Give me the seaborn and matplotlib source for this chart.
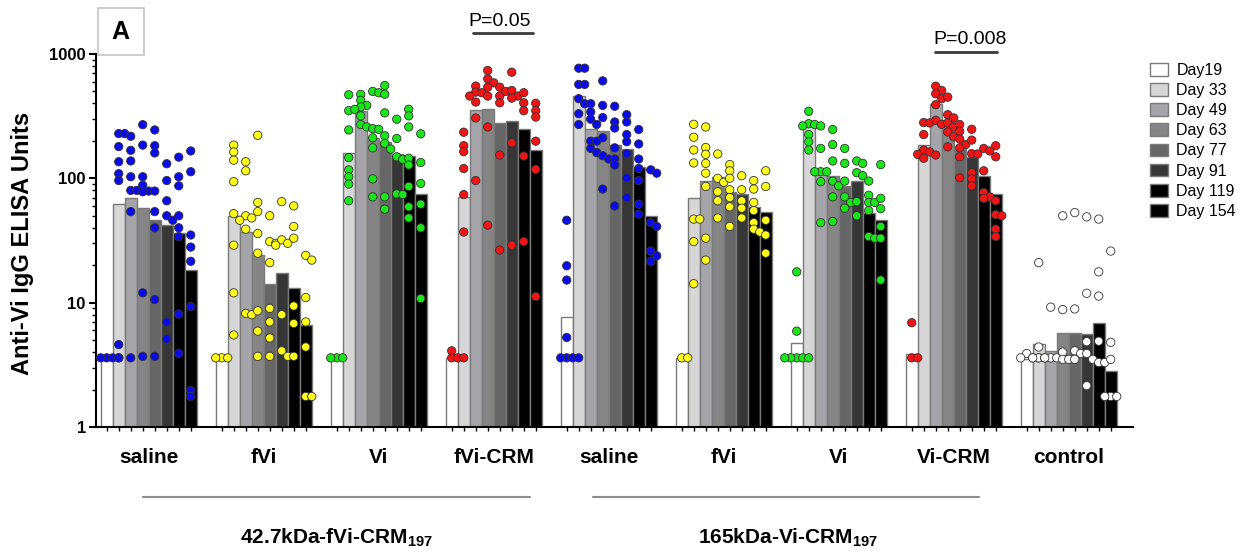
import numpy as np
import pandas as pd
import matplotlib
matplotlib.use("Agg")
import matplotlib.pyplot as plt
import seaborn as sns
from matplotlib.patches import Patch, Rectangle
from matplotlib.lines import Line2D
from matplotlib.ticker import LogLocator, NullFormatter

# ---------------- data ----------------
groups = ["saline", "fVi", "Vi", "fVi-CRM", "saline", "fVi", "Vi", "Vi-CRM", "control"]
days = ["Day19", "Day 33", "Day 49", "Day 63", "Day 77", "Day 91", "Day 119", "Day 154"]

# bar heights (geometric means, ELISA units)
bars_saline_42 = [3.6, 62, 70, 57.5, 46, 42, 36, 18.3]
bars_fvi_42 = [3.6, 50, 37, 24, 14.2, 17.3, 13, 6.6]
bars_vi_42 = [3.6, 161, 346, 212, 195, 158, 152, 75]
bars_fvicrm_42 = [3.6, 70.5, 356, 363, 281, 288, 248, 169]
bars_saline_165 = [7.7, 459, 251, 239, 185, 172, 123, 50]
bars_fvi_165 = [3.6, 70, 95, 103, 78, 74.5, 59, 54]
bars_vi_165 = [4.7, 264, 112, 105, 87.5, 96, 52.5, 46]
bars_vicrm_165 = [3.9, 187, 394, 288, 172, 149, 105, 75]
bars_control = [3.5, 4.65, 4.05, 5.7, 5.75, 5.6, 6.9, 2.8]

# individual mice per day
dots_saline_42 = [
    [3.6, 3.6, 3.6, 3.6],
    [229, 229, 180, 136, 109, 96, 4.6, 3.6],
    [218, 168, 138, 103, 80, 80, 54, 3.6],
    [270, 185, 103, 88, 79, 78, 12, 3.7],
    [245, 183, 160, 79, 54, 40, 10.6, 3.7],
    [131, 96, 66, 50, 46, 7, 5.1],
    [148, 103, 87, 50, 40, 34, 8.1, 3.9],
    [166, 113, 35, 28, 21.5, 9.3, 1.97, 1.76],
]
dots_fvi_42 = [
    [3.6, 3.6, 3.6],
    [185, 163, 140, 94, 52, 29, 12, 5.5],
    [136, 115, 50, 48, 46, 39, 8.2, 8],
    [222, 64, 54, 36, 25, 8.6, 5.9, 3.7],
    [50, 31, 30, 21, 9, 7, 5.2, 3.7],
    [65, 32, 30, 29, 8, 4.1, 3.7],
    [60, 41, 33, 9.4, 6.8, 3.7],
    [24, 22, 11, 7, 4.4, 1.76, 1.76],
]
dots_vi_42 = [
    [3.6, 3.6, 3.6],
    [470, 350, 245, 147, 117, 103, 90, 66],
    [473, 424, 386, 375, 359, 318, 271, 259],
    [500, 488, 251, 248, 212, 176, 99, 71],
    [558, 475, 336, 220, 191, 172, 71, 56.5],
    [299, 209, 149, 142, 75, 74],
    [359, 318, 259, 145, 128, 86, 59, 48],
    [228, 134, 91, 62, 40, 10.8],
]
dots_fvicrm_42 = [
    [4.1, 3.6, 3.6],
    [235, 183, 164, 120, 74, 37, 3.6],
    [552, 494, 488, 459, 411, 306, 96],
    [737, 631, 586, 541, 459, 259, 42],
    [541, 500, 459, 405, 154, 26.5],
    [714, 509, 459, 442, 193, 29],
    [488, 405, 350, 151, 31],
    [401, 350, 311, 199, 118, 11.2],
]
dots_saline_165 = [
    [46, 19.8, 15.2, 5.25, 3.6, 3.6, 3.6, 3.6],
    [769, 769, 569, 569, 437, 398, 331, 271],
    [398, 342, 299, 271, 199, 199, 174, 161],
    [608, 386, 308, 212, 152, 143, 82],
    [380, 284, 254, 176, 143, 128, 60],
    [325, 284, 225, 197, 158, 101, 70],
    [247, 189, 143, 120, 96, 62, 51.5],
    [117, 110, 44, 41, 26, 23.8, 21.5],
]
dots_fvi_165 = [
    [3.6, 3.6],
    [272, 214, 169, 133, 47, 47, 31, 14.2],
    [259, 177, 156, 132, 110, 86, 33, 22],
    [157, 100, 93, 78, 66, 48],
    [129, 115, 100, 81, 70, 59, 41],
    [105, 81, 66, 57.5, 48],
    [96, 82, 64, 55, 44, 39, 37],
    [115, 86, 46, 35, 25],
]
dots_vi_165 = [
    [17.7, 5.9, 3.6, 3.6, 3.6, 3.6, 3.6],
    [346, 275, 271, 264, 264, 225, 197, 169],
    [174, 113, 113, 113, 94, 44],
    [247, 187, 138, 95, 87, 71, 45],
    [174, 132, 95, 71, 64, 57.5],
    [138, 132, 111, 105, 65, 50],
    [95, 73, 64, 64, 55, 34, 33],
    [129, 69, 57, 41, 33, 15.2],
]
dots_vicrm_165 = [
    [6.9, 3.6, 3.6],
    [281, 279, 225, 169, 163, 156, 154, 145],
    [551, 509, 479, 437, 391, 293, 272],
    [450, 325, 306, 279, 259, 236, 216, 179],
    [271, 239, 207, 187, 176, 149, 101],
    [248, 203, 158, 111, 99, 87],
    [174, 166, 157, 115, 77, 71, 69],
    [183, 149, 66, 51, 50, 39, 34],
]
dots_control = [
    [3.9, 3.6, 3.6, 3.6],
    [21, 4.4, 3.6, 3.6, 3.6],
    [9.2, 3.6, 3.6, 3.6],
    [50, 8.8, 4.0, 3.5, 3.5],
    [53, 8.9, 4.1, 3.9, 3.5],
    [49, 11.9, 4.85, 3.9, 3.5, 2.15],
    [47, 17.7, 11.3, 4.9, 3.3, 3.3],
    [26, 4.8, 3.5, 1.76, 1.76, 1.76],
]

bar_values = [bars_saline_42, bars_fvi_42, bars_vi_42, bars_fvicrm_42,
              bars_saline_165, bars_fvi_165, bars_vi_165, bars_vicrm_165, bars_control]
dot_values = [dots_saline_42, dots_fvi_42, dots_vi_42, dots_fvicrm_42,
              dots_saline_165, dots_fvi_165, dots_vi_165, dots_vicrm_165, dots_control]

bar_colors = ["#ffffff", "#d6d6d6", "#a5a5a9", "#858585", "#666666", "#363636", "#000000", "#000000"]
dot_colors = ["#0a0aeb", "#ffff1a", "#19e619", "#f01414",
              "#0a0aeb", "#ffff1a", "#19e619", "#f01414", "#ffffff"]

# ---------------- style ----------------
sns.set_theme(style="ticks")
plt.rcParams["font.family"] = ["Liberation Sans", "DejaVu Sans"]
plt.rcParams["mathtext.fontset"] = "custom"
plt.rcParams["mathtext.rm"] = "Liberation Sans:bold"
plt.rcParams["mathtext.bf"] = "Liberation Sans:bold"
plt.rcParams["mathtext.it"] = "Liberation Sans:bold"
plt.rcParams["axes.edgecolor"] = "black"
plt.rcParams["xtick.color"] = "black"
plt.rcParams["ytick.color"] = "black"
plt.rcParams["text.color"] = "black"

W, H = 1247, 553
fig = plt.figure(figsize=(W / 100, H / 100), dpi=100)
ax_l, ax_r, ax_t, ax_b = 95.5, 1133, 54, 427
ax = fig.add_axes([ax_l / W, 1 - ax_b / H, (ax_r - ax_l) / W, (ax_b - ax_t) / H])
ax.set_yscale("log")

keys = [f"g{i}" for i in range(len(groups))]
rows = []
for k, vals in zip(keys, bar_values):
    for d, v in zip(days, vals):
        rows.append({"group": k, "day": d, "value": v})
df = pd.DataFrame(rows)

total_w = 0.835
sns.barplot(data=df, x="group", y="value", hue="day", order=keys, hue_order=days,
            palette=bar_colors, width=total_w, dodge=True, errorbar=None,
            edgecolor="#7a7a7a", linewidth=1.0, saturation=1, legend=False, ax=ax)

xlim = (-0.463, 8.559)
ylim = (1, 1000)

# bar centres from the drawn bars
centers = np.zeros((len(groups), len(days)))
for j, cont in enumerate(ax.containers):
    for i, b in enumerate(cont):
        centers[i, j] = b.get_x() + b.get_width() / 2

# simple beeswarm laid out in output pixels around each bar centre
px_per_x = (ax_r - ax_l) / (xlim[1] - xlim[0])
px_per_dec = (ax_b - ax_t) / np.log10(ylim[1] / ylim[0])
step, min_d = 6.0, 5.9
xs, ys, hs = [], [], []
for i, gd in enumerate(dot_values):
    for j, vals in enumerate(gd):
        xc = centers[i, j]
        placed = []
        for v in vals:
            yp = np.log10(v) * px_per_dec
            for k in [0, 1, -1, 2, -2, 3, -3, 4, -4, 5, -5, 6, -6]:
                xp = k * step
                if all((xp - a) ** 2 + (yp - b) ** 2 >= min_d ** 2 for a, b in placed):
                    break
            placed.append((xp, yp))
            xs.append(xc + xp / px_per_x)
            ys.append(v)
            hs.append(keys[i])

sns.scatterplot(x=xs, y=ys, hue=hs, palette=dict(zip(keys, dot_colors)),
                s=36, edgecolor="#333333", linewidth=0.6, legend=False, zorder=5, ax=ax)

ax.set_xlim(*xlim)
ax.set_ylim(*ylim)

# ---------------- axes ----------------
ax.set_xlabel("")
ax.set_ylabel("")
ax.set_xticks(range(len(groups)))
ax.set_xticklabels(groups, fontsize=15, fontweight="bold")
ax.tick_params(axis="x", which="major", length=0, pad=15)
ax.set_xticks(centers.flatten(), minor=True)
ax.tick_params(axis="x", which="minor", length=3, width=1, direction="out")

ax.set_yticks([1, 10, 100, 1000])
ax.set_yticklabels(["1", "10", "100", "1000"], fontsize=12, fontweight="bold")
ax.yaxis.set_minor_locator(LogLocator(base=10, subs=np.arange(2, 10)))
ax.yaxis.set_minor_formatter(NullFormatter())
ax.tick_params(axis="y", which="major", length=5, width=1.5, pad=2)
ax.tick_params(axis="y", which="minor", length=3, width=1)
sns.despine(ax=ax)
for s in ["left", "bottom"]:
    ax.spines[s].set_linewidth(1.5)
    ax.spines[s].set_color("black")

fig.text(23 / W, 1 - 243 / H, "Anti-Vi IgG ELISA Units", rotation=90,
         ha="center", va="center", fontsize=17, fontweight="bold")

# panel letter
fig.add_artist(Rectangle((97.5 / W, 1 - 55 / H), 46 / W, 47 / H, transform=fig.transFigure,
                         facecolor="white", edgecolor="#c4c4c4", linewidth=1.2))
fig.text(120.5 / W, 1 - 32 / H, "A", ha="center", va="center", fontsize=18, fontweight="bold")

# p-values
def pval(text, cx, ty, ly, x0, x1):
    fig.text(cx / W, 1 - ty / H, text, ha="center", va="center", fontsize=14)
    fig.add_artist(Line2D([x0 / W, x1 / W], [1 - ly / H, 1 - ly / H], transform=fig.transFigure,
                          color="#3a3a3a", linewidth=2))

pval("P=0.05", 500, 21, 33, 473, 533)
pval("P=0.008", 970, 40, 52, 935, 997)

# bottom group brackets
for x0, x1, cx, lab in [(143, 530, 336, r"42.7kDa-fVi-CRM$_{197}$"),
                        (593, 979, 788, r"165kDa-Vi-CRM$_{197}$")]:
    fig.add_artist(Line2D([x0 / W, x1 / W], [1 - 497 / H, 1 - 497 / H], transform=fig.transFigure,
                          color="#8c8c8c", linewidth=1.5))
    fig.text(cx / W, 1 - 538 / H, lab, ha="center", va="center", fontsize=15, fontweight="bold")

# legend
handles = [Patch(facecolor=c, edgecolor="#7a7a7a", linewidth=1.0) for c in bar_colors]
fig.legend(handles, days, loc="upper left", bbox_to_anchor=(1150 / W, 1 - 63 / H),
           frameon=False, fontsize=11.5, handlelength=1.15, handleheight=0.85,
           labelspacing=0.32, handletextpad=0.5, borderaxespad=0, borderpad=0)

fig.savefig("out.png", dpi=100)
